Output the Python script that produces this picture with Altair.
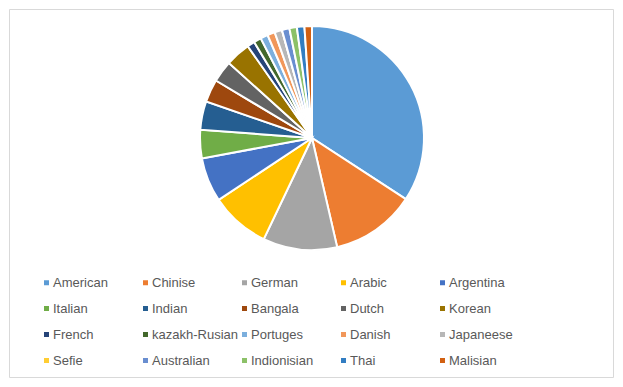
import altair as alt
import pandas as pd

names = ["American", "Chinise", "German", "Arabic", "Argentina",
         "Italian", "Indian", "Bangala", "Dutch", "Korean",
         "French", "kazakh-Rusian", "Portuges", "Danish", "Japaneese",
         "Sefie", "Australian", "Indionisian", "Thai", "Malisian"]
values = [34.2, 12.2, 10.7, 8.6, 6.4,
          4.1, 4.1, 3.3, 3.1, 3.6,
          1.08, 1.08, 1.08, 1.08, 1.08,
          0.0, 1.08, 1.08, 1.08, 1.08]
colors = ["#5B9BD5", "#ED7D31", "#A5A5A5", "#FFC000", "#4472C4",
          "#70AD47", "#255E91", "#9E480E", "#636363", "#997300",
          "#264478", "#43682B", "#7CAFDD", "#F1975A", "#B7B7B7",
          "#FFCD33", "#698ED0", "#8CC168", "#327DC2", "#D26012"]

df = pd.DataFrame({"name": names, "value": values, "idx": list(range(len(names)))})

chart = alt.Chart(df).mark_arc(stroke="white", strokeWidth=2).encode(
    theta=alt.Theta("value:Q", stack=True),
    order=alt.Order("idx:Q", sort="ascending"),
    color=alt.Color(
        "name:N",
        sort=names,
        scale=alt.Scale(domain=names, range=colors),
        legend=alt.Legend(
            title=None, orient="none", legendX=31, legendY=267,
            direction="horizontal",
            columns=5, gridAlign="all", symbolType="square", symbolSize=25,
            symbolStrokeWidth=0, labelFontSize=13, labelColor="#595959",
            labelFont="Liberation Sans", labelOffset=0, columnPadding=-8,
            rowPadding=12, labelLimit=200, padding=0,
        ),
    ),
    x=alt.value(303),
    y=alt.value(129),
    radius=alt.value(112),
).properties(
    width=604, height=368,
    padding={"left": 1, "top": 1, "right": 1, "bottom": 1},
    autosize=alt.AutoSizeParams(type="none"),
).configure_view(stroke="#D9D9D9", strokeWidth=1)

chart.save("out.html", embed_options={"renderer": "svg", "actions": False})
